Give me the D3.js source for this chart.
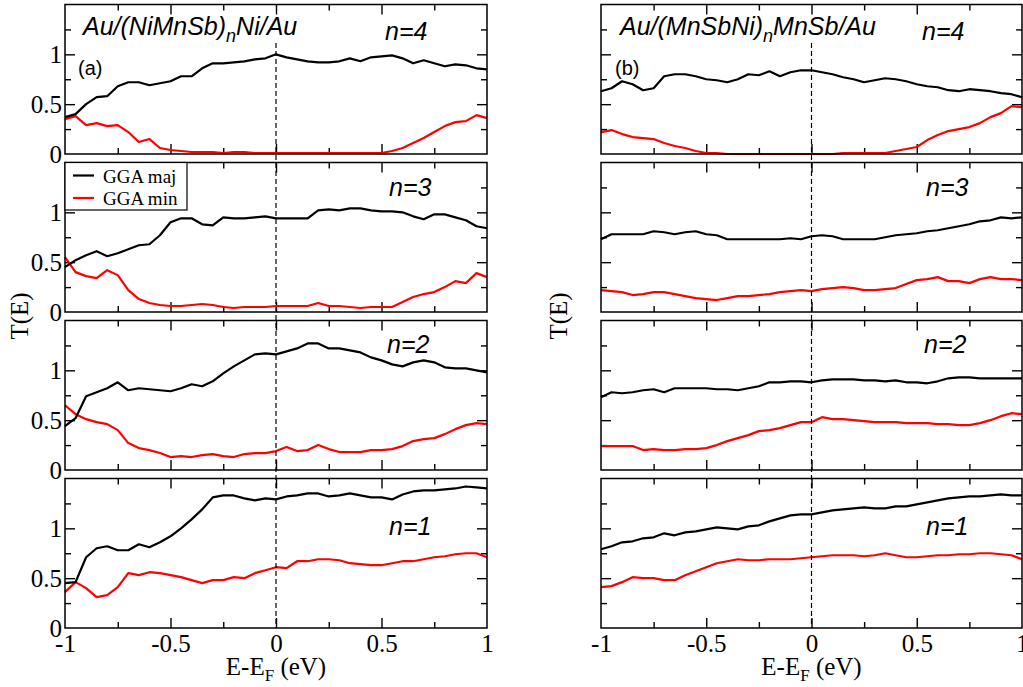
<!DOCTYPE html>
<html lang="en">
<head>
<meta charset="UTF-8"/>
<title>T(E) of Au/NiMnSb/Au junctions</title>
<script src="https://d3js.org/d3.v7.min.js"></script>
<style>
    body { margin: 0; background: #fff; }
</style>
</head>
<body>
<div id="chart"></div>
<script>
    // energy grid E-EF (eV)
    var energy = [-1, -0.95, -0.9, -0.85, -0.8, -0.75, -0.7, -0.65, -0.6, -0.55, -0.5,
                  -0.45, -0.4, -0.35, -0.3, -0.25, -0.2, -0.15, -0.1, -0.05, 0,
                  0.05, 0.1, 0.15, 0.2, 0.25, 0.3, 0.35, 0.4, 0.45, 0.5,
                  0.55, 0.6, 0.65, 0.7, 0.75, 0.8, 0.85, 0.9, 0.95, 1];

    var panelNames = ["n=4", "n=3", "n=2", "n=1"];
    var xTickValues = [-1, -0.5, 0, 0.5, 1];
    var yTickValues = [0, 0.5, 1];
    var legendNames = ["GGA maj", "GGA min"];

    // (a) Au/(NiMnSb)nNi/Au
    var aMaj4 = [0.37,0.40,0.50,0.57,0.58,0.68,0.72,0.72,0.69,0.71,0.73,0.78,0.78,0.86,0.91,0.91,0.92,0.93,0.95,0.96,1.00,
                 0.97,0.95,0.93,0.92,0.92,0.93,0.96,0.93,0.97,0.98,0.99,0.96,0.91,0.94,0.91,0.88,0.90,0.89,0.86,0.85];
    var aMin4 = [0.35,0.38,0.29,0.31,0.28,0.29,0.22,0.12,0.15,0.06,0.04,0.03,0.02,0.02,0.02,0.01,0.02,0.02,0.01,0.01,0.01,
                 0.01,0.01,0.01,0.01,0.01,0.01,0.01,0.01,0.01,0.01,0.03,0.06,0.11,0.16,0.22,0.28,0.32,0.33,0.39,0.36];
    var aMaj3 = [0.45,0.52,0.57,0.61,0.56,0.59,0.63,0.67,0.68,0.77,0.90,0.94,0.94,0.88,0.87,0.95,0.94,0.94,0.95,0.96,0.94,
                 0.94,0.94,0.94,1.02,1.03,1.02,1.04,1.04,1.02,1.01,1.01,1.00,0.96,0.93,0.98,0.98,0.95,0.92,0.86,0.84];
    var aMin3 = [0.55,0.40,0.36,0.34,0.42,0.37,0.22,0.13,0.09,0.07,0.06,0.06,0.07,0.08,0.07,0.05,0.04,0.05,0.05,0.05,0.06,
                 0.06,0.06,0.06,0.09,0.06,0.06,0.05,0.04,0.05,0.05,0.05,0.10,0.15,0.18,0.20,0.25,0.31,0.29,0.39,0.35];
    var aMaj2 = [0.44,0.52,0.74,0.78,0.82,0.88,0.80,0.82,0.81,0.80,0.79,0.82,0.86,0.84,0.89,0.97,1.04,1.10,1.16,1.17,1.16,
                 1.19,1.22,1.27,1.27,1.22,1.22,1.20,1.18,1.13,1.10,1.06,1.04,1.08,1.10,1.08,1.03,1.02,1.02,1.00,0.98];
    var aMin2 = [0.65,0.56,0.51,0.48,0.46,0.40,0.27,0.22,0.20,0.17,0.13,0.14,0.13,0.15,0.16,0.14,0.13,0.16,0.17,0.17,0.19,
                 0.23,0.19,0.20,0.25,0.21,0.18,0.18,0.18,0.20,0.20,0.21,0.24,0.29,0.31,0.32,0.36,0.41,0.45,0.47,0.46];
    var aMaj1 = [0.45,0.46,0.71,0.80,0.82,0.78,0.78,0.84,0.81,0.86,0.92,1.00,1.09,1.19,1.31,1.33,1.33,1.30,1.28,1.30,1.29,
                 1.32,1.33,1.35,1.35,1.32,1.33,1.35,1.33,1.31,1.31,1.29,1.34,1.37,1.38,1.38,1.39,1.40,1.42,1.41,1.40];
    var aMin1 = [0.36,0.46,0.40,0.31,0.33,0.41,0.55,0.53,0.56,0.55,0.53,0.51,0.48,0.45,0.48,0.48,0.51,0.50,0.55,0.58,0.61,
                 0.60,0.67,0.67,0.69,0.69,0.68,0.65,0.64,0.63,0.63,0.65,0.67,0.67,0.69,0.71,0.72,0.74,0.75,0.75,0.71];

    // (b) Au/(MnSbNi)nMnSb/Au
    var bMaj4 = [0.63,0.66,0.73,0.70,0.64,0.66,0.78,0.80,0.80,0.78,0.75,0.74,0.72,0.75,0.80,0.79,0.83,0.78,0.82,0.84,0.84,
                 0.82,0.80,0.77,0.75,0.72,0.74,0.76,0.75,0.73,0.70,0.68,0.67,0.64,0.63,0.65,0.64,0.63,0.61,0.60,0.57];
    var bMin4 = [0.22,0.24,0.20,0.17,0.16,0.15,0.11,0.08,0.06,0.03,0.01,0.01,0.00,0.00,0.00,0.00,0.00,0.00,0.00,0.00,0.00,
                 0.00,0.00,0.01,0.01,0.01,0.01,0.01,0.03,0.05,0.07,0.14,0.19,0.23,0.25,0.27,0.31,0.37,0.41,0.48,0.47];
    var bMaj3 = [0.73,0.78,0.78,0.78,0.78,0.81,0.80,0.78,0.80,0.81,0.78,0.77,0.73,0.73,0.73,0.73,0.73,0.73,0.74,0.73,0.76,
                 0.77,0.76,0.73,0.73,0.73,0.73,0.75,0.77,0.78,0.79,0.81,0.82,0.84,0.86,0.88,0.91,0.92,0.95,0.94,0.95];
    var bMin3 = [0.22,0.21,0.20,0.17,0.18,0.20,0.20,0.18,0.16,0.14,0.13,0.12,0.14,0.16,0.16,0.17,0.18,0.20,0.21,0.22,0.21,
                 0.23,0.24,0.25,0.24,0.22,0.22,0.23,0.24,0.28,0.32,0.33,0.35,0.31,0.31,0.29,0.33,0.35,0.33,0.33,0.32];
    var bMaj2 = [0.73,0.78,0.77,0.78,0.80,0.81,0.78,0.82,0.82,0.82,0.82,0.81,0.81,0.80,0.82,0.84,0.88,0.88,0.89,0.89,0.88,
                 0.90,0.91,0.91,0.91,0.90,0.90,0.89,0.90,0.88,0.88,0.87,0.89,0.92,0.93,0.93,0.92,0.92,0.92,0.92,0.92];
    var bMin2 = [0.24,0.24,0.24,0.24,0.20,0.21,0.20,0.20,0.21,0.21,0.22,0.25,0.29,0.32,0.35,0.39,0.40,0.42,0.45,0.48,0.48,
                 0.53,0.51,0.51,0.50,0.49,0.48,0.48,0.48,0.47,0.47,0.47,0.46,0.46,0.45,0.45,0.47,0.50,0.54,0.57,0.56];
    var bMaj1 = [0.79,0.82,0.86,0.87,0.90,0.91,0.95,0.93,0.96,0.97,0.99,1.01,1.00,0.99,1.02,1.03,1.07,1.10,1.13,1.14,1.14,
                 1.16,1.18,1.19,1.20,1.21,1.20,1.20,1.22,1.22,1.24,1.26,1.28,1.30,1.31,1.32,1.32,1.33,1.34,1.33,1.33];
    var bMin1 = [0.41,0.42,0.46,0.51,0.50,0.50,0.48,0.48,0.53,0.57,0.61,0.65,0.67,0.69,0.68,0.68,0.69,0.69,0.69,0.70,0.71,
                 0.72,0.73,0.73,0.73,0.72,0.73,0.75,0.73,0.71,0.71,0.72,0.73,0.73,0.74,0.74,0.75,0.75,0.74,0.73,0.69];

    var width = 1023;
    var height = 687;
    var panelTop = 4.5;     // top of first panel
    var panelH = 149.5;     // plot height of each panel
    var panelStep = 158;    // distance between panel tops
    var serif = "'Liberation Serif', 'Times New Roman', serif";
    var sans = "'Liberation Sans', Arial, sans-serif";

    var columns = [
        { x0: 65, x1: 487, tag: "(a)", title: ["Au/(NiMnSb)", "n", "Ni/Au"], titleX: 83, tagX: 78,
          nameX: [385, 389, 387, 389], maj: [aMaj4, aMaj3, aMaj2, aMaj1], min: [aMin4, aMin3, aMin2, aMin1],
          yLabels: true, yTitleX: 28 },
        { x0: 601, x1: 1022, tag: "(b)", title: ["Au/(MnSbNi)", "n", "MnSb/Au"], titleX: 620, tagX: 615,
          nameX: [922, 926, 924, 926], maj: [bMaj4, bMaj3, bMaj2, bMaj1], min: [bMin4, bMin3, bMin2, bMin1],
          yLabels: false, yTitleX: 567 }
    ];
    var nameY = [35.5, 33.5, 32.5, 56.5];   // label baselines below each panel top

    const svg = d3.select("#chart")
        .append("svg")
        .attr("width", width)
        .attr("height", height);

    columns.forEach(function(col) {
        var xScale = d3.scaleLinear().domain([-1, 1]).range([col.x0, col.x1]);

        for (var p = 0; p < 4; p++) {
            var top = panelTop + p * panelStep;
            var yScale = d3.scaleLinear().domain([0, 1.5]).range([top + panelH, top]);
            var g = svg.append("g");

            // ticks, major and minor, on all four sides
            function tickAxis(axis, tr, values, size) {
                var a = g.append("g")
                    .attr("transform", tr)
                    .call(axis.tickValues(values).tickSize(-size).tickFormat(""));
                a.select(".domain").remove();
                a.selectAll("line").attr("stroke-width", 1.4);
                return a;
            }
            tickAxis(d3.axisLeft(yScale), "translate(" + col.x0 + ",0)", [0.5, 1], 10);
            tickAxis(d3.axisLeft(yScale), "translate(" + col.x0 + ",0)", [0.25, 0.75, 1.25], 6);
            tickAxis(d3.axisRight(yScale), "translate(" + col.x1 + ",0)", [0.5, 1], 10);
            tickAxis(d3.axisRight(yScale), "translate(" + col.x1 + ",0)", [0.25, 0.75, 1.25], 6);
            tickAxis(d3.axisBottom(xScale), "translate(0," + (top + panelH) + ")", [-0.5, 0, 0.5], 10);
            tickAxis(d3.axisBottom(xScale), "translate(0," + (top + panelH) + ")", [-0.75, -0.25, 0.25, 0.75], 6);
            tickAxis(d3.axisTop(xScale), "translate(0," + top + ")", [-0.5, 0, 0.5], 10);
            tickAxis(d3.axisTop(xScale), "translate(0," + top + ")", [-0.75, -0.25, 0.25, 0.75], 6);

            // y tick labels on the left column only
            if (col.yLabels) {
                var yl = g.append("g")
                    .attr("transform", "translate(" + col.x0 + ",0)")
                    .call(d3.axisLeft(yScale).tickValues(yTickValues).tickSize(0).tickPadding(3)
                        .tickFormat(function(d) { return String(d); }));
                yl.select(".domain").remove();
                yl.selectAll("text")
                    .attr("font-family", serif)
                    .attr("font-size", 25)
                    .attr("fill", "#000");
            }

            // x tick labels under the last panel
            if (p === 3) {
                var xl = g.append("g")
                    .attr("transform", "translate(0," + (top + panelH) + ")")
                    .call(d3.axisBottom(xScale).tickValues(xTickValues).tickSize(0).tickPadding(6)
                        .tickFormat(function(d) { return String(d); }));
                xl.select(".domain").remove();
                xl.selectAll("text")
                    .attr("font-family", serif)
                    .attr("font-size", 25)
                    .attr("fill", "#000");
            }

            // curves
            var line = d3.line()
                .x(function(d, i) { return xScale(energy[i]); })
                .y(function(d) { return yScale(d); });

            g.append("path")
                .datum(col.min[p])
                .attr("d", line)
                .attr("fill", "none")
                .attr("stroke", "#ff0000")
                .attr("stroke-width", 2.2)
                .attr("stroke-linejoin", "round");

            g.append("path")
                .datum(col.maj[p])
                .attr("d", line)
                .attr("fill", "none")
                .attr("stroke", "#000")
                .attr("stroke-width", 2.2)
                .attr("stroke-linejoin", "round");

            // frame
            g.append("rect")
                .attr("x", col.x0)
                .attr("y", top)
                .attr("width", col.x1 - col.x0)
                .attr("height", panelH)
                .attr("fill", "none")
                .attr("stroke", "#000")
                .attr("stroke-width", 1.5);

            // n label
            g.append("text")
                .attr("x", col.nameX[p])
                .attr("y", top + nameY[p])
                .attr("font-family", sans)
                .attr("font-style", "italic")
                .attr("font-size", 25)
                .text(panelNames[p]);
        }

        // dashed Fermi level line
        svg.append("line")
            .attr("x1", xScale(0))
            .attr("x2", xScale(0))
            .attr("y1", 43)
            .attr("y2", panelTop + 3 * panelStep + panelH)
            .attr("stroke", "#000")
            .attr("stroke-width", 1.2)
            .attr("stroke-dasharray", "5,3");

        // structure title with subscript n
        var t = svg.append("text")
            .attr("x", col.titleX)
            .attr("y", 35)
            .attr("font-family", sans)
            .attr("font-style", "italic")
            .attr("font-size", 25);
        t.append("tspan").text(col.title[0]);
        t.append("tspan").attr("font-size", 18).attr("dy", 7).text(col.title[1]);
        t.append("tspan").attr("dy", -7).text(col.title[2]);

        svg.append("text")
            .attr("x", col.tagX)
            .attr("y", 75)
            .attr("font-family", sans)
            .attr("font-size", 20)
            .text(col.tag);

        // axis titles
        var xt = svg.append("text")
            .attr("x", (col.x0 + col.x1) / 2)
            .attr("y", 675)
            .attr("text-anchor", "middle")
            .attr("font-family", serif)
            .attr("font-size", 25);
        xt.append("tspan").text("E-E");
        xt.append("tspan").attr("font-size", 17).attr("dy", 6).text("F");
        xt.append("tspan").attr("dy", -6).text(" (eV)");

        svg.append("text")
            .attr("transform", "translate(" + col.yTitleX + "," + 316 + ")rotate(-90)")
            .attr("text-anchor", "middle")
            .attr("font-family", serif)
            .attr("font-size", 25)
            .text("T(E)");
    });

    // legend in panel n=3 of column (a)
    var legend = svg.append("g");
    legend.append("rect")
        .attr("x", 65)
        .attr("y", panelTop + panelStep)
        .attr("width", 122)
        .attr("height", 47.5)
        .attr("fill", "#fff")
        .attr("stroke", "#000")
        .attr("stroke-width", 1.2);
    legendNames.forEach(function(name, i) {
        var ly = panelTop + panelStep + 13 + i * 22.5;
        legend.append("line")
            .attr("x1", 73).attr("x2", 94)
            .attr("y1", ly).attr("y2", ly)
            .attr("stroke", i === 0 ? "#000" : "#ff0000")
            .attr("stroke-width", 2.2);
        legend.append("text")
            .attr("x", 103)
            .attr("y", ly + 7)
            .attr("font-family", serif)
            .attr("font-size", 19)
            .text(name);
    });
</script>
</body>
</html>
